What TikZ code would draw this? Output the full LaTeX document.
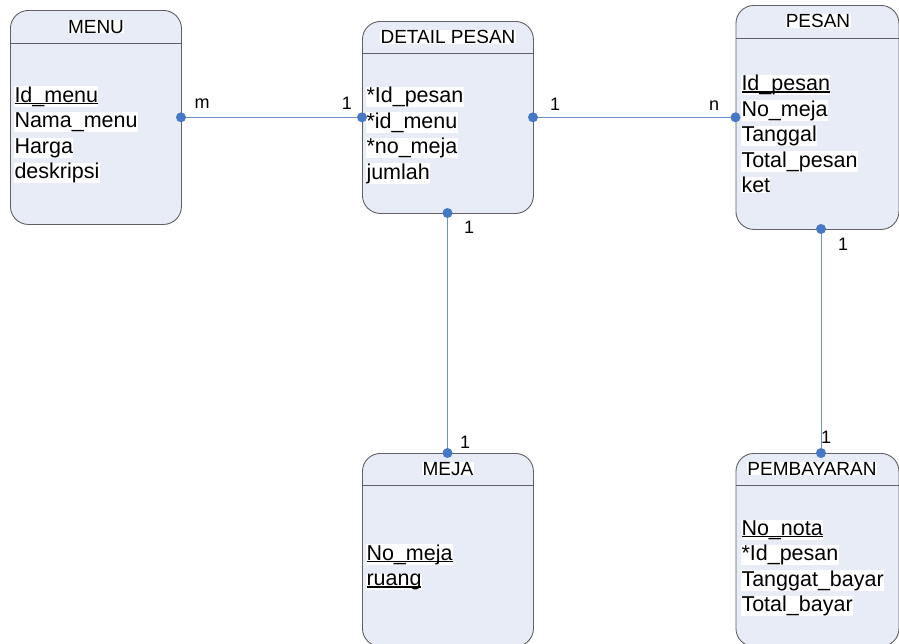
\documentclass[tikz,border=0pt]{standalone}
\usepackage{fontspec}
\setmainfont{Liberation Sans}
\definecolor{boxfill}{RGB}{231,236,246}
\definecolor{boxline}{RGB}{95,95,100}
\definecolor{connline}{RGB}{110,145,205}
\definecolor{dotcol}{RGB}{70,120,200}
\newcommand\undl[1]{\setbox0\hbox{#1}\rlap{\rule[-2pt]{\wd0}{1.3pt}}\box0}
\tikzset{
  entity/.style={draw=boxline, fill=boxfill, line width=0.9pt, rounded corners=18pt, inner sep=0pt, anchor=north west},
  hline/.style={draw=boxline, line width=0.8pt},
  attr/.style={anchor=base west, fill=white, inner sep=0.3pt, font=\fontsize{21.5}{25}\selectfont},
  ttl/.style={anchor=base, fill=white, inner sep=0.3pt, font=\fontsize{19}{22}\selectfont},
  card/.style={anchor=base, inner sep=0pt, font=\fontsize{18}{20}\selectfont},
  conn/.style={draw=connline, line width=1pt},
  enddot/.style={circle, fill=dotcol, inner sep=0pt, minimum size=10pt}
}
\begin{document}
\begin{tikzpicture}[x=1pt,y=-1pt]
\useasboundingbox (0,0) rectangle (899,643);
% entities
\node[entity, minimum width=171pt, minimum height=214pt] (menu) at (10,10) {};
\node[entity, minimum width=171pt, minimum height=192pt] (detail) at (362,21) {};
\node[entity, minimum width=163pt, minimum height=224pt] (pesan) at (735.5,5) {};
\node[entity, minimum width=171pt, minimum height=193pt] (meja) at (362,453) {};
\node[entity, minimum width=163pt, minimum height=193pt] (bayar) at (735.5,453) {};
% header lines
\draw[hline] (menu.west |- 0,43) -- (menu.east |- 0,43);
\draw[hline] (detail.west |- 0,53) -- (detail.east |- 0,53);
\draw[hline] (pesan.west |- 0,38) -- (pesan.east |- 0,38);
\draw[hline] (meja.west |- 0,485) -- (meja.east |- 0,485);
\draw[hline] (bayar.west |- 0,485) -- (bayar.east |- 0,485);
% titles
\node[ttl] (tmenu) at (96,33) {MENU};
\node[ttl] (tdetail) at (448,43.5) {DETAIL PESAN};
\node[ttl] (tpesan) at (818,27.5) {PESAN};
\node[ttl] (tmeja) at (448,475) {MEJA};
\node[ttl] (tbayar) at (812,475) {PEMBAYARAN};
% MENU attributes
\node[attr] (m1) at (14,102) {\undl{Id\_menu}};
\node[attr] (m2) at (14,127.5) {Nama\_menu};
\node[attr] (m3) at (14,153) {Harga};
\node[attr] (m4) at (14,178.5) {deskripsi};
% DETAIL PESAN attributes
\node[attr] (d1) at (366,102.5) {*Id\_pesan};
\node[attr] (d2) at (366,128) {*id\_menu};
\node[attr] (d3) at (366,153.5) {*no\_meja};
\node[attr] (d4) at (366,179) {jumlah};
% PESAN attributes
\node[attr] (p1) at (741,90.5) {\undl{Id\_pesan}};
\node[attr] (p2) at (741,116) {No\_meja};
\node[attr] (p3) at (741,141.5) {Tanggal};
\node[attr] (p4) at (741,167) {Total\_pesan};
\node[attr] (p5) at (741,192.5) {ket};
% MEJA attributes
\node[attr] (j1) at (366,560) {\undl{No\_meja}};
\node[attr] (j2) at (366,585.5) {\undl{ruang}};
% PEMBAYARAN attributes
\node[attr] (b1) at (741,535) {\undl{No\_nota}};
\node[attr] (b2) at (741,560.5) {*Id\_pesan};
\node[attr] (b3) at (741,586) {Tanggat\_bayar};
\node[attr] (b4) at (741,611.5) {Total\_bayar};
% connector end points
\coordinate (menuR) at (181,117.3);
\coordinate (detL) at (362,117.3);
\coordinate (detR) at (533,117.3);
\coordinate (pesL) at (735.5,117.3);
\coordinate (detB) at (447.5,213);
\coordinate (mejT) at (447.5,453);
\coordinate (pesB) at (821,229);
\coordinate (bayT) at (821,453);
% connectors
\draw[conn] (menuR) -- (detL);
\draw[conn] (detR) -- (pesL);
\draw[conn] (detB) -- (mejT);
\draw[conn] (pesB) -- (bayT);
\foreach \p in {menuR,detL,detR,pesL,detB,mejT,pesB,bayT}
  \node[enddot] (dot-\p) at (\p) {};
% cardinalities
\node[card] (c1) at (202,108.5) {m};
\node[card] (c2) at (347,109) {1};
\node[card] (c3) at (555,110) {1};
\node[card] (c4) at (714,110) {n};
\node[card] (c5) at (469,233) {1};
\node[card] (c6) at (465,448) {1};
\node[card] (c7) at (843,250) {1};
\node[card] (c8) at (826,443) {1};
\end{tikzpicture}
\end{document}
